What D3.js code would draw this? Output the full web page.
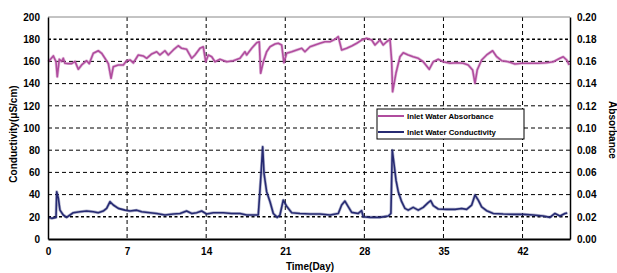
<!DOCTYPE html>
<html><head><meta charset="utf-8">
<script src="https://cdn.jsdelivr.net/npm/d3@7"></script>
<style>body{margin:0;background:#fff}text{font-family:"Liberation Sans",Arial,sans-serif;font-weight:bold}</style>
</head><body><svg id="c" width="617" height="273"></svg>
<script>
const condDays=[0.03,0.33,0.71,0.77,0.91,1.06,1.35,1.65,1.95,2.24,2.83,3.42,4.01,4.45,4.89,5.19,5.49,5.78,6.22,6.81,7.26,7.85,8.29,9.03,9.62,10.35,11.09,11.68,12.27,12.72,13.16,13.60,14.04,14.63,15.51,16.26,16.99,17.58,18.17,18.61,18.82,19.0,19.12,19.35,19.65,19.94,20.29,20.53,20.82,21.12,21.57,22.30,23.19,24.07,24.96,25.69,25.99,26.28,26.58,26.88,27.46,27.76,27.90,28.50,29.38,30.12,30.35,30.47,30.62,30.80,31.0,31.30,31.59,31.88,32.32,32.77,33.21,33.65,33.87,34.10,34.54,35.28,36.02,36.61,37.05,37.50,37.79,38.08,38.38,38.82,39.41,40.29,41.18,42.06,42.95,43.83,44.42,44.87,45.31,45.75,45.96];
const condValues=[19.5,18.6,19.5,42.6,37,26,21.6,19.5,21.6,23.7,24.6,25.2,24.6,23.7,25.2,27.6,33.6,30.6,27.6,26,25.2,26,24.6,23.7,23,21.6,22.5,23,25.2,23,23.7,25.2,22.5,23.7,23.7,23,23,21.6,21.6,21.6,53,83,59,42.6,33.6,23,19.5,21.6,35,29.5,23.7,23,22.5,22.5,21.6,23,30.6,34.2,29,24,23,25.5,20,19.5,19.5,20.7,23,80,68,53,42.6,33.6,27.6,26,28.5,26,28.5,32.7,34.5,30,27,26.7,26.7,27.5,26.7,30.6,39.6,35,29,25.5,23,22.5,22.2,22.2,21.6,20.7,19.5,23,20.7,23,23.5];
const absDays=[0.03,0.47,0.71,0.82,1.0,1.21,1.35,1.50,1.80,2.10,2.39,2.68,2.98,3.42,3.65,4.01,4.45,4.75,5.04,5.34,5.58,5.78,6.22,6.66,6.96,7.26,7.55,7.99,8.43,8.73,9.18,9.62,9.91,10.35,10.65,11.09,11.53,11.83,12.27,12.72,13.01,13.45,13.74,13.96,14.19,14.49,14.78,15.22,15.81,16.40,16.99,17.43,17.58,18.03,18.47,18.70,18.82,19.06,19.35,19.65,20.09,20.38,20.68,20.88,21.12,21.57,22.01,22.45,22.74,23.19,23.63,24.07,24.51,24.96,25.40,25.69,25.99,26.43,26.88,27.32,27.76,28.20,28.65,28.94,29.38,29.67,29.97,30.27,30.41,30.50,30.80,31.15,31.44,31.88,32.32,32.77,33.21,33.74,34.10,34.54,34.98,35.58,36.17,36.75,37.19,37.58,37.79,37.99,38.38,38.82,39.35,39.71,40.15,40.73,41.33,41.92,42.65,43.39,44.13,44.73,45.31,45.60,45.90,46.13];
const absValues=[0.1597,0.1649,0.1597,0.1462,0.1619,0.160,0.1628,0.1583,0.158,0.158,0.160,0.1529,0.1568,0.1606,0.158,0.1673,0.1696,0.1673,0.1628,0.158,0.1448,0.1552,0.1568,0.1568,0.1606,0.1613,0.1586,0.1658,0.1649,0.1628,0.1667,0.1687,0.1658,0.1696,0.1658,0.1703,0.1741,0.1718,0.1709,0.1628,0.1658,0.1718,0.1732,0.1597,0.1658,0.1642,0.1597,0.1619,0.1597,0.1606,0.1628,0.1687,0.1658,0.1718,0.1768,0.1777,0.1493,0.1597,0.1687,0.1732,0.1757,0.1763,0.1748,0.1588,0.1673,0.1687,0.1703,0.1718,0.1687,0.1732,0.1748,0.1763,0.1777,0.1777,0.1799,0.1823,0.1703,0.1718,0.1739,0.1763,0.1793,0.1808,0.1793,0.1748,0.1793,0.1748,0.1777,0.1799,0.1613,0.1327,0.1495,0.1642,0.1678,0.1658,0.1642,0.1628,0.1597,0.1529,0.1597,0.1619,0.1597,0.1583,0.1588,0.1583,0.1568,0.1523,0.1403,0.1523,0.1613,0.1658,0.1696,0.1642,0.1606,0.1597,0.1577,0.1583,0.1583,0.1583,0.1588,0.1597,0.1628,0.1642,0.1613,0.1568];
const xTicks=[0,7,14,21,28,35,42];
const yLeftTicks=[0,20,40,60,80,100,120,140,160,180,200];
const yRightTicks=[0,0.02,0.04,0.06,0.08,0.10,0.12,0.14,0.16,0.18,0.20];
const seriesNames=["Inlet Water Absorbance","Inlet Water Conductivity"];
const colors=["#b04c9e","#262a72"];

const svg=d3.select("#c");
const L=48,R=570,T=17,B=239;
const x=d3.scaleLinear().domain([0,46.2]).range([L,R]);
const yL=d3.scaleLinear().domain([0,200]).range([B,T]);
const yR=d3.scaleLinear().domain([0,0.2]).range([B,T]);

// grid
const g=svg.append("g");
yLeftTicks.filter(v=>v>0&&v<200).forEach(v=>{
  const heavy=(v===20||v===180);
  g.append("line").attr("x1",L).attr("x2",R).attr("y1",yL(v)).attr("y2",yL(v))
   .attr("stroke","#000").attr("stroke-width",heavy?1.6:1).attr("stroke-dasharray",heavy?"3,2.5":"4,3");
});
xTicks.filter(v=>v>0).forEach(v=>{
  g.append("line").attr("x1",x(v)).attr("x2",x(v)).attr("y1",T).attr("y2",B)
   .attr("stroke","#000").attr("stroke-width",1).attr("stroke-dasharray","4,3");
});
g.append("line").attr("x1",L).attr("x2",R).attr("y1",T).attr("y2",T).attr("stroke","#888").attr("stroke-width",1);

// lines
const lineAbs=d3.line().x((d,i)=>x(absDays[i])).y(d=>yR(d));
const lineCond=d3.line().x((d,i)=>x(condDays[i])).y(d=>yL(d));
svg.append("path").attr("d",lineAbs(absValues)).attr("fill","none").attr("stroke",colors[0]).attr("stroke-width",3).attr("stroke-opacity",0.35).attr("stroke-linejoin","round");
svg.append("path").attr("d",lineAbs(absValues)).attr("fill","none").attr("stroke",colors[0]).attr("stroke-width",1.6).attr("stroke-linejoin","round");
svg.append("path").attr("d",lineCond(condValues)).attr("fill","none").attr("stroke",colors[1]).attr("stroke-width",3).attr("stroke-opacity",0.35).attr("stroke-linejoin","round");
svg.append("path").attr("d",lineCond(condValues)).attr("fill","none").attr("stroke",colors[1]).attr("stroke-width",1.6).attr("stroke-linejoin","round");

// axes
const ax=svg.append("g").attr("transform",`translate(0,${B})`).call(d3.axisBottom(x).tickValues(xTicks).tickSize(0).tickPadding(9).tickFormat(d3.format("d")));
const ayl=svg.append("g").attr("transform",`translate(${L},0)`).call(d3.axisLeft(yL).tickValues(yLeftTicks).tickSize(0).tickPadding(8).tickFormat(d3.format("d")));
const ayr=svg.append("g").attr("transform",`translate(${R},0)`).call(d3.axisRight(yR).tickValues(yRightTicks).tickSize(0).tickPadding(7).tickFormat(d3.format(".2f")));
[ax,ayl,ayr].forEach(a=>{a.selectAll("text").attr("font-size",10).attr("font-weight","bold").attr("fill","#000").attr("font-family","Liberation Sans, Arial, sans-serif");});
ax.select(".domain").attr("stroke","#000").attr("stroke-width",2);
ayl.select(".domain").attr("stroke","#000").attr("stroke-width",1.5);
ayr.select(".domain").attr("stroke","#000").attr("stroke-width",1.5);

// titles
svg.append("text").attr("x",310).attr("y",270).attr("text-anchor","middle").attr("font-size",10).text("Time(Day)");
svg.append("text").attr("transform","translate(17,134) rotate(-90)").attr("text-anchor","middle").attr("font-size",10).text("Conductivity(μS/cm)");
svg.append("text").attr("transform","translate(609,130) rotate(90)").attr("text-anchor","middle").attr("font-size",10).text("Absorbance");

// legend
const lg=svg.append("g");
lg.append("rect").attr("x",377).attr("y",109).attr("width",147).attr("height",30).attr("fill","#fff").attr("stroke","#000").attr("stroke-width",1);
seriesNames.forEach((n,i)=>{
  const yy=116+i*16;
  lg.append("line").attr("x1",378).attr("x2",404).attr("y1",yy).attr("y2",yy).attr("stroke",colors[i]).attr("stroke-width",2);
  lg.append("text").attr("x",407).attr("y",yy+3).attr("font-size",7.8).text(n);
});
</script></body></html>
